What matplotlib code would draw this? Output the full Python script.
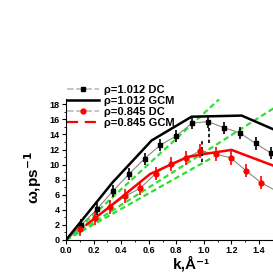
import numpy as np
import matplotlib.pyplot as plt

plt.rcParams['font.family'] = ['Liberation Sans', 'DejaVu Sans']
plt.rcParams['font.weight'] = 'bold'

# rho = 1.012, DC points
k_dc1 = [0.11, 0.225, 0.34, 0.455, 0.57, 0.685, 0.80, 0.915, 1.03, 1.145, 1.26, 1.375, 1.49]
w_dc1 = [2.0, 4.1, 6.5, 8.7, 10.8, 12.6, 13.8, 15.5, 15.7, 14.9, 14.2, 12.8, 11.5]
e_dc1 = 0.8

# rho = 0.845, DC points
k_dc2 = [0.10, 0.21, 0.32, 0.43, 0.54, 0.65, 0.76, 0.87, 0.975, 1.085, 1.195, 1.305, 1.415, 1.525]
w_dc2 = [1.4, 2.9, 4.4, 5.8, 6.9, 8.8, 10.1, 10.9, 11.8, 11.4, 10.9, 9.2, 7.6, 6.5]
e_dc2 = 0.9

# GCM curves
k_gcm1 = [0.0, 0.336, 0.621, 0.911, 1.274, 1.52]
w_gcm1 = [0.0, 7.6, 13.2, 16.35, 16.5, 14.55]
k_gcm2 = [0.15, 0.33, 0.61, 0.88, 1.0, 1.2, 1.52]
w_gcm2 = [2.05, 4.6, 8.75, 11.0, 11.4, 11.95, 9.75]

# green dashed hydrodynamic lines: slope, k range end
slopes = [16.8, 11.6, 10.3]
k_ends = [1.11, 1.55, 1.07]

# dashed black bars near k = 1
k_bars = [1.035, 0.99]
bar_lo = [12.8, 10.3]
bar_hi = [15.3, 13.3]

fig = plt.figure(figsize=(2.73, 2.73), dpi=100)
ax = fig.add_axes([0.2418, 0.1209, 0.808, 0.5165])

for s, ke in zip(slopes, k_ends):
    kk = np.array([0.0, ke])
    ax.plot(kk, s * kk, color='#33dd33', ls=(0, (2.5, 1.5)), lw=1.6, zorder=1)

ax.plot([0] + k_dc1, [0] + w_dc1, color='#8a8a8a', lw=0.8, zorder=2)
ax.plot([0] + k_dc2, [0] + w_dc2, color='#8a8a8a', lw=0.8, zorder=2)
ax.errorbar(k_dc1, w_dc1, yerr=e_dc1, fmt='s', color='black', ms=3.5,
            elinewidth=1.2, capsize=0, zorder=4)
ax.errorbar(k_dc2, w_dc2, yerr=e_dc2, fmt='o', color='red', ms=3.5,
            elinewidth=1.2, capsize=0, zorder=4)
ax.vlines(k_bars, bar_lo, bar_hi, color='black', lw=1.2, linestyles=(0, (2, 1.5)), zorder=4)

ax.plot(k_gcm1, w_gcm1, color='black', lw=1.8, zorder=3)
ax.plot(k_gcm2, w_gcm2, color='red', lw=1.8, zorder=3)

ax.set_xlim(0, 1.6)
ax.set_ylim(0, 18.7)
ax.set_xticks(np.arange(0, 1.41, 0.2))
ax.set_xticks(np.arange(0, 1.6, 0.1), minor=True)
ax.set_yticks(np.arange(0, 19, 2))
ax.set_yticks(np.arange(0, 19, 1), minor=True)
ax.xaxis.set_major_formatter(plt.FormatStrFormatter('%.1f'))
ax.tick_params(labelsize=6.5, width=0.8, length=3, pad=1.5)
ax.tick_params(axis='x', pad=1)
ax.tick_params(which='minor', width=0.6, length=1.5)
for lab in ax.get_xticklabels() + ax.get_yticklabels():
    lab.set_fontweight('bold')
ax.spines['top'].set_visible(False)
ax.spines['right'].set_visible(False)

fig.text(0.70, 0.006, 'k,Å⁻¹', fontsize=11, fontweight='bold', ha='center', va='bottom',
         family=['Liberation Sans', 'DejaVu Sans'])
fig.text(0.12, 0.35, 'ω,ps$^{-1}$', fontsize=11, fontweight='bold', ha='center', va='center',
         rotation=90)

h1, = ax.plot([], [], color='#bbbbbb', lw=1.2, ls=(0, (4, 1.5)), marker='s', mfc='black', mec='black', ms=3)
h2, = ax.plot([], [], color='black', lw=1.8)
h3, = ax.plot([], [], color='#bbbbbb', lw=1.2, ls=(0, (4, 1.5)), marker='o', mfc='red', mec='red', ms=3.5)
h4, = ax.plot([], [], color='red', lw=1.6, ls=(0, (5, 3)))
fig.legend([h1, h2, h3, h4], ['ρ=1.012 DC', 'ρ=1.012 GCM', 'ρ=0.845 DC', 'ρ=0.845 GCM'],
           loc='upper left', bbox_to_anchor=(0.23, 0.705), frameon=False,
           prop={'size': 8, 'weight': 'bold'}, handlelength=2.9, handletextpad=0.4,
           labelspacing=0.1, borderaxespad=0)

fig.savefig('out.png', dpi=100)
